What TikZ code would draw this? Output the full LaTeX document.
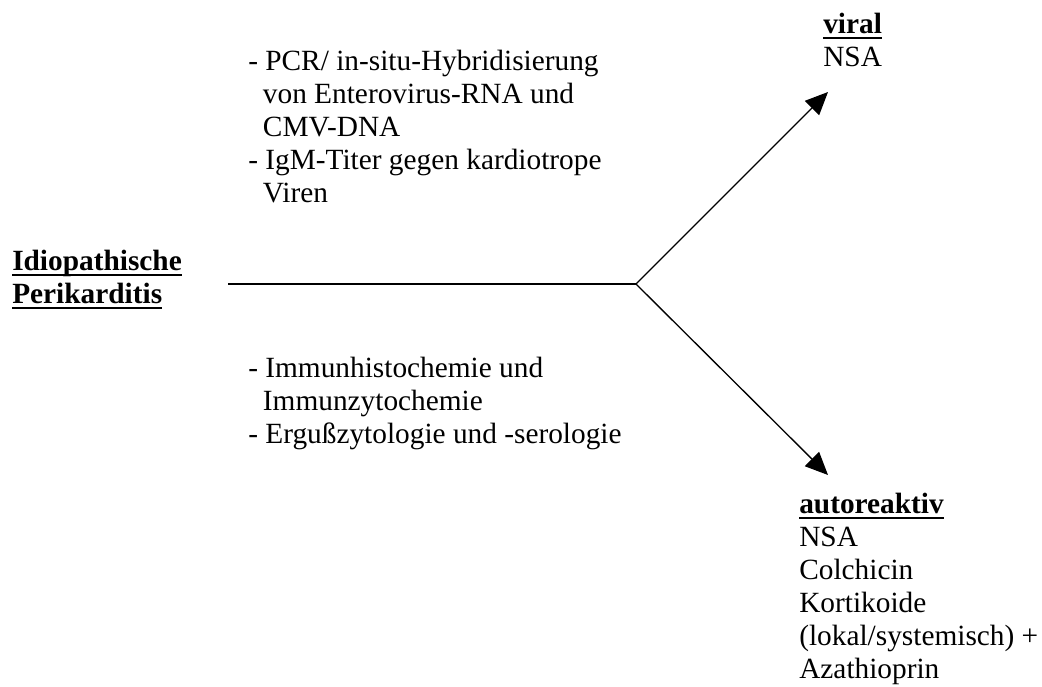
\documentclass[tikz,border=0pt]{standalone}
\usepackage{fontspec}
\setmainfont{Liberation Serif}
\usetikzlibrary{positioning,arrows.meta}

% bold text with a heavy underline
\newcommand{\ulbf}[1]{\setbox0\hbox{\bfseries #1}\rlap{\rule[-4.5pt]{\wd0}{1.5pt}}\box0}
\newcommand{\hang}{\hspace*{11pt}}
% left aligned lines, baseline on the first line
\newcommand{\textlines}[1]{\begin{tabular}[t]{@{}l@{}}#1\end{tabular}}

\begin{document}
\begin{tikzpicture}[
    x=0.75pt, y=-0.75pt,
    txt/.style={inner sep=0pt, anchor=base west,
                font=\fontsize{22}{24.75}\selectfont},
    arr/.style={-{Triangle[length=17pt, width=15pt]}, line width=1pt}
  ]
    \useasboundingbox (0,0) rectangle (1042,686);

    \node[txt] (idio) at (12,270) {\textlines{\ulbf{Idiopathische}\\ \ulbf{Perikarditis}}};
    \node[txt] (viral) at (823,33) {\textlines{\ulbf{viral}\\ NSA}};
    \node[txt] (auto) at (799,513)
      {\textlines{\ulbf{autoreaktiv}\\ NSA\\ Colchicin\\ Kortikoide\\ (lokal/systemisch) +\\ Azathioprin}};
    \node[txt] (viraltests) at (248,70)
      {\textlines{- PCR/ in-situ-Hybridisierung\\ \hang von Enterovirus-RNA und\\ \hang CMV-DNA\\
       - IgM-Titer gegen kardiotrope\\ \hang Viren}};
    \node[txt] (autotests) at (248,377)
      {\textlines{- Immunhistochemie und\\ \hang Immunzytochemie\\ - Ergußzytologie und -serologie}};

    \coordinate (start) at (228,284);
    \coordinate (fork) at (636,284);
    \coordinate (viraltip) at (828,92);
    \coordinate (autotip) at (828,475);

    \draw[line width=1pt] (start) -- (fork);
    \draw[arr] (fork) -- (viraltip);
    \draw[arr] (fork) -- (autotip);
  \end{tikzpicture}
\end{document}
